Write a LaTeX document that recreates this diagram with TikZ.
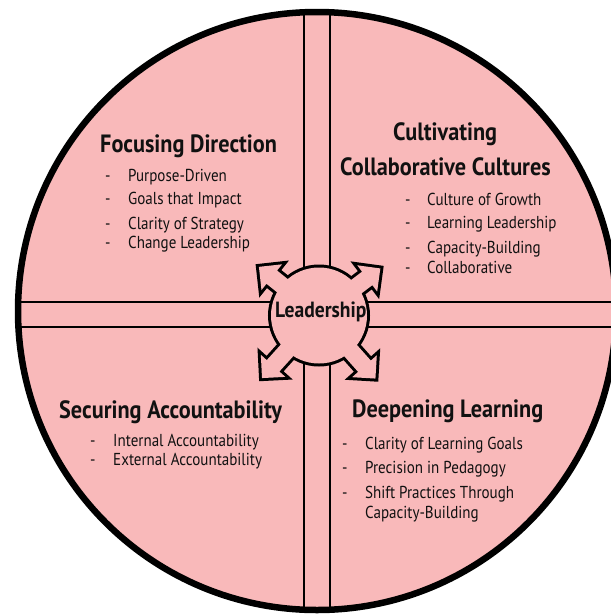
\documentclass[tikz,border=0pt]{standalone}
\usepackage{fontspec}
\setmainfont{PT Sans}[FakeStretch=0.87, BoldFeatures={FakeStretch=0.89}]
\definecolor{pinkc}{HTML}{F9B9BA}
\definecolor{inkc}{HTML}{111111}
\tikzset{
  txt/.style={anchor=base west, inner sep=0pt, text=inkc, font=\fontsize{17.3}{20}\selectfont},
  ttl/.style={anchor=base west, inner sep=0pt, text=inkc, font=\bfseries\fontsize{25}{28}\selectfont},
  bar/.style={line width=2.7pt, black},
}
\newcommand\larrowshape[3]{% style, angle, tip distance
  \path[#1, shift={(319,315)}, rotate=#2]
    (#3,0) -- (#3-16.5,16.5) -- (#3-16.5,8.5) -- (#3-50,8.5) -- (#3-50,-8.5)
    -- (#3-16.5,-8.5) -- (#3-16.5,-16.5) -- cycle;}
\begin{document}
\begin{tikzpicture}[x=1pt,y=-1pt]
\useasboundingbox (0,0) rectangle (611,614);
% big circle fill
\fill[pinkc] (317,311) circle (299);
% bars
\begin{scope}
  \clip (317,311) circle (299);
  \draw[bar] (304,0) -- (304,614);
  \draw[bar] (330,0) -- (330,614);
  \draw[bar] (0,302) -- (640,302);
  \draw[bar] (0,327) -- (640,327);
\end{scope}
% union strokes
\larrowshape{draw=black, line width=6pt, line join=miter}{141.3}{77}
\larrowshape{draw=black, line width=6pt, line join=miter}{37.2}{77}
\larrowshape{draw=black, line width=6pt, line join=miter}{227.9}{85}
\larrowshape{draw=black, line width=6pt, line join=miter}{-48.4}{85}
\draw[line width=6pt] (319,315.5) circle (48);
% union fills
\larrowshape{fill=pinkc}{141.3}{77}
\larrowshape{fill=pinkc}{37.2}{77}
\larrowshape{fill=pinkc}{227.9}{85}
\larrowshape{fill=pinkc}{-48.4}{85}
\fill[pinkc] (319,315.5) circle (48);
% big circle outline
\draw[line width=6.5pt] (317,311) circle (299);
% center label
\node[ttl, font=\bfseries\fontsize{22}{24}\selectfont] (lead) at (275,317) {Leadership};
% Focusing Direction
\node[ttl] (fd) at (100,152) {Focusing Direction};
\node[txt] (fd1b) at (105,181) {-}; \node[txt] (fd1) at (128,181) {Purpose-Driven};
\node[txt] (fd2b) at (105,204) {-}; \node[txt] (fd2) at (128,204) {Goals that Impact};
\node[txt] (fd3b) at (105,229) {-}; \node[txt] (fd3) at (128,229) {Clarity of Strategy};
\node[txt] (fd4b) at (105,248) {-}; \node[txt] (fd4) at (128,248) {Change Leadership};
% Cultivating Collaborative Cultures
\node[ttl] (cc) at (393,140) {Cultivating};
\node[ttl] (cc0) at (340,175) {Collaborative Cultures};
\node[txt] (cc1b) at (405,205) {-}; \node[txt] (cc1) at (427,205) {Culture of Growth};
\node[txt] (cc2b) at (405,228) {-}; \node[txt] (cc2) at (427,228) {Learning Leadership};
\node[txt] (cc3b) at (405,253) {-}; \node[txt] (cc3) at (427,253) {Capacity-Building};
\node[txt] (cc4b) at (405,273) {-}; \node[txt] (cc4) at (427,273) {Collaborative};
% Securing Accountability
\node[ttl] (sa) at (59,418) {Securing Accountability};
\node[txt] (sa1b) at (90,446) {-}; \node[txt] (sa1) at (113,446) {Internal Accountability};
\node[txt] (sa2b) at (90,465) {-}; \node[txt] (sa2) at (113,465) {External Accountability};
% Deepening Learning
\node[ttl] (dl) at (352,417) {Deepening Learning};
\node[txt] (dl1b) at (342,449) {-}; \node[txt] (dl1) at (365,449) {Clarity of Learning Goals};
\node[txt] (dl2b) at (342,473) {-}; \node[txt] (dl2) at (365,473) {Precision in Pedagogy};
\node[txt] (dl3b) at (342,498) {-}; \node[txt] (dl3) at (365,498) {Shift Practices Through};
\node[txt] (dl4) at (365,518) {Capacity-Building};
\end{tikzpicture}
\end{document}
